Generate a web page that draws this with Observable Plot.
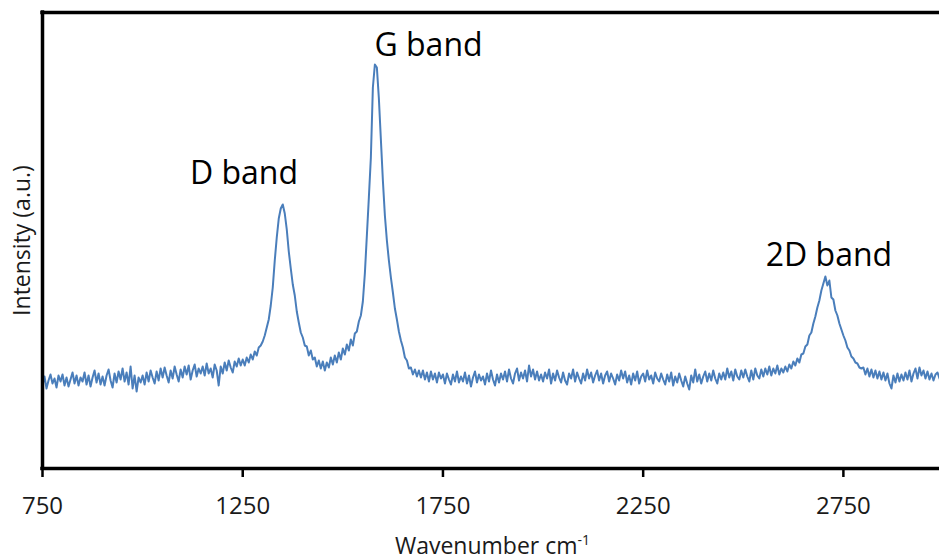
<!DOCTYPE html>
<html><head><meta charset="utf-8">
<script src="https://cdn.jsdelivr.net/npm/d3@7"></script>
<script src="https://cdn.jsdelivr.net/npm/@observablehq/plot@0.6"></script>
<style>
html,body{margin:0;padding:0;background:#fff;overflow:hidden;}
#chart{width:939px;height:560px;}
</style></head><body><div id="chart"></div>
<script>
// Raman shift (cm-1)
const wavenumber = [
750,755,760,765,770,775,780,785,790,795,
800,805,810,815,820,825,830,835,840,845,
850,855,860,865,870,875,880,885,890,895,
900,905,910,915,920,925,930,935,940,945,
950,955,960,965,970,975,980,985,990,995,
1000,1005,1010,1015,1020,1025,1030,1035,1040,1045,
1050,1055,1060,1065,1070,1075,1080,1085,1090,1095,
1100,1105,1110,1115,1120,1125,1130,1135,1140,1145,
1150,1155,1160,1165,1170,1175,1180,1185,1190,1195,
1200,1205,1210,1215,1220,1225,1230,1235,1240,1245,
1250,1255,1260,1265,1270,1275,1280,1285,1290,1295,
1300,1305,1310,1315,1320,1325,1330,1335,1340,1345,
1350,1355,1360,1365,1370,1375,1380,1385,1390,1395,
1400,1405,1410,1415,1420,1425,1430,1435,1440,1445,
1450,1455,1460,1465,1470,1475,1480,1485,1490,1495,
1500,1505,1510,1515,1520,1525,1530,1535,1540,1545,
1550,1555,1560,1565,1570,1575,1580,1585,1590,1595,
1600,1605,1610,1615,1620,1625,1630,1635,1640,1645,
1650,1655,1660,1665,1670,1675,1680,1685,1690,1695,
1700,1705,1710,1715,1720,1725,1730,1735,1740,1745,
1750,1755,1760,1765,1770,1775,1780,1785,1790,1795,
1800,1805,1810,1815,1820,1825,1830,1835,1840,1845,
1850,1855,1860,1865,1870,1875,1880,1885,1890,1895,
1900,1905,1910,1915,1920,1925,1930,1935,1940,1945,
1950,1955,1960,1965,1970,1975,1980,1985,1990,1995,
2000,2005,2010,2015,2020,2025,2030,2035,2040,2045,
2050,2055,2060,2065,2070,2075,2080,2085,2090,2095,
2100,2105,2110,2115,2120,2125,2130,2135,2140,2145,
2150,2155,2160,2165,2170,2175,2180,2185,2190,2195,
2200,2205,2210,2215,2220,2225,2230,2235,2240,2245,
2250,2255,2260,2265,2270,2275,2280,2285,2290,2295,
2300,2305,2310,2315,2320,2325,2330,2335,2340,2345,
2350,2355,2360,2365,2370,2375,2380,2385,2390,2395,
2400,2405,2410,2415,2420,2425,2430,2435,2440,2445,
2450,2455,2460,2465,2470,2475,2480,2485,2490,2495,
2500,2505,2510,2515,2520,2525,2530,2535,2540,2545,
2550,2555,2560,2565,2570,2575,2580,2585,2590,2595,
2600,2605,2610,2615,2620,2625,2630,2635,2640,2645,
2650,2655,2660,2665,2670,2675,2680,2685,2690,2695,
2700,2705,2710,2715,2720,2725,2730,2735,2740,2745,
2750,2755,2760,2765,2770,2775,2780,2785,2790,2795,
2800,2805,2810,2815,2820,2825,2830,2835,2840,2845,
2850,2855,2860,2865,2870,2875,2880,2885,2890,2895,
2900,2905,2910,2915,2920,2925,2930,2935,2940,2945,
2950,2955,2960,2965,2970,2975,2980,2985,2990
];
// Intensity (a.u.)
const intensity = [
80,89,77,85,91,82,87,78,90,84,
91,80,88,79,86,93,82,90,80,88,
84,93,81,90,79,88,95,83,92,81,
89,80,90,96,85,78,92,83,94,86,
97,84,93,81,99,77,90,74,88,83,
90,81,93,84,95,88,82,94,85,97,
88,98,90,83,95,87,99,91,84,96,
88,99,91,100,86,95,101,89,97,92,
99,90,102,92,97,88,101,95,80,99,
92,103,95,105,98,93,104,99,107,100,
106,100,108,103,111,106,114,110,118,120,
124,130,138,146,160,178,205,228,247,257,
261,252,236,214,197,181,170,154,143,133,
128,120,119,110,115,106,108,99,105,97,
104,95,103,98,108,101,110,103,113,106,
117,111,121,115,126,120,132,134,144,150,
164,192,230,268,308,378,401,398,367,326,
285,250,225,205,188,173,157,146,134,125,
118,108,105,97,98,91,96,89,95,88,
95,86,93,84,94,86,92,83,93,87,
91,82,92,86,81,91,84,94,83,89,
84,93,82,90,79,88,94,83,91,85,
89,81,92,84,95,86,80,91,83,92,
86,94,84,96,87,82,92,97,85,93,
87,95,84,100,89,96,86,94,85,91,
84,93,87,96,82,92,85,95,88,83,
93,85,81,92,87,96,84,93,87,82,
92,85,96,87,93,83,90,95,85,92,
82,90,94,84,92,87,81,91,85,95,
87,94,83,90,81,92,85,94,82,89,
92,84,95,86,90,82,93,87,84,92,
86,81,91,84,93,80,89,83,92,85,
79,89,82,76,90,83,96,84,91,82,
89,94,84,92,85,95,87,82,92,86,
93,86,97,88,94,85,96,89,86,95,
88,96,89,84,95,86,97,90,87,96,
89,97,91,99,90,97,92,100,91,97,
93,99,94,101,97,104,100,107,103,111,
112,119,121,130,133,142,149,158,165,175,
182,189,180,185,168,166,155,150,142,136,
130,125,118,115,109,107,103,102,98,97,
98,91,97,89,96,88,95,87,94,86,
93,85,92,82,77,90,83,92,84,91,
85,93,86,95,84,92,97,87,98,90,
95,87,94,86,92,85,91,93,87
];
const xTicks = [750, 1250, 1750, 2250, 2750];
const xDomain = [750, 2990];
const yDomain = [-3, 453];
const bandNames = ["D band", "G band", "2D band"];
const bandLabelX = [1253, 1714, 2714];
const bandLabelY = [282, 410, 200];

const spectrum = wavenumber.map((w, i) => ({w, v: intensity[i]}));
const bands = bandNames.map((name, i) => ({name, x: bandLabelX[i], y: bandLabelY[i]}));

const font = "'Open Sans', sans-serif";
const plot = Plot.plot({
  width: 939, height: 560,
  marginTop: 12, marginBottom: 92, marginLeft: 42, marginRight: 0,
  style: {fontFamily: font, background: "#fff", color: "#1a1a1a", overflow: "visible"},
  x: {domain: xDomain, label: null},
  y: {domain: yDomain, axis: null},
  marks: [
    Plot.line(spectrum, {x: "w", y: "v", stroke: "#4a7ebb", strokeWidth: 2}),
    Plot.ruleY([yDomain[0]], {stroke: "#000", strokeWidth: 3.5, strokeLinecap: "square"}),
    Plot.ruleY([yDomain[1]], {stroke: "#000", strokeWidth: 3.5, strokeLinecap: "square"}),
    Plot.ruleX([xDomain[0]], {stroke: "#000", strokeWidth: 3.5, strokeLinecap: "square"}),
    Plot.axisX({ticks: xTicks, tickSize: 9, tickPadding: 19, fontSize: 24, strokeWidth: 2.5, stroke: "#000", tickFormat: d => String(d), label: null}),
    Plot.text(bands, {x: "x", y: "y", text: "name", fontSize: 32, lineAnchor: "bottom", fill: "#000"}),
    Plot.text(["Intensity (a.u.)"], {frameAnchor: "left", textAnchor: "middle", lineAnchor: "middle", rotate: -90, dx: -20, fontSize: 23, fill: "#1a1a1a"})
  ]
});

// x-axis title with superscript
const xs = plot.scale("x");
const cx = (xs.range[0] + xs.range[1]) / 2 + 2;
const svg = d3.select(plot);
const t = svg.append("text")
  .attr("x", cx).attr("y", 554)
  .attr("text-anchor", "middle")
  .attr("font-family", font).attr("font-size", 23).attr("fill", "#1a1a1a");
t.append("tspan").text("Wavenumber cm");
t.append("tspan").attr("font-size", 14).attr("dy", -9).text("-1");

document.getElementById("chart").appendChild(plot);
</script></body></html>
